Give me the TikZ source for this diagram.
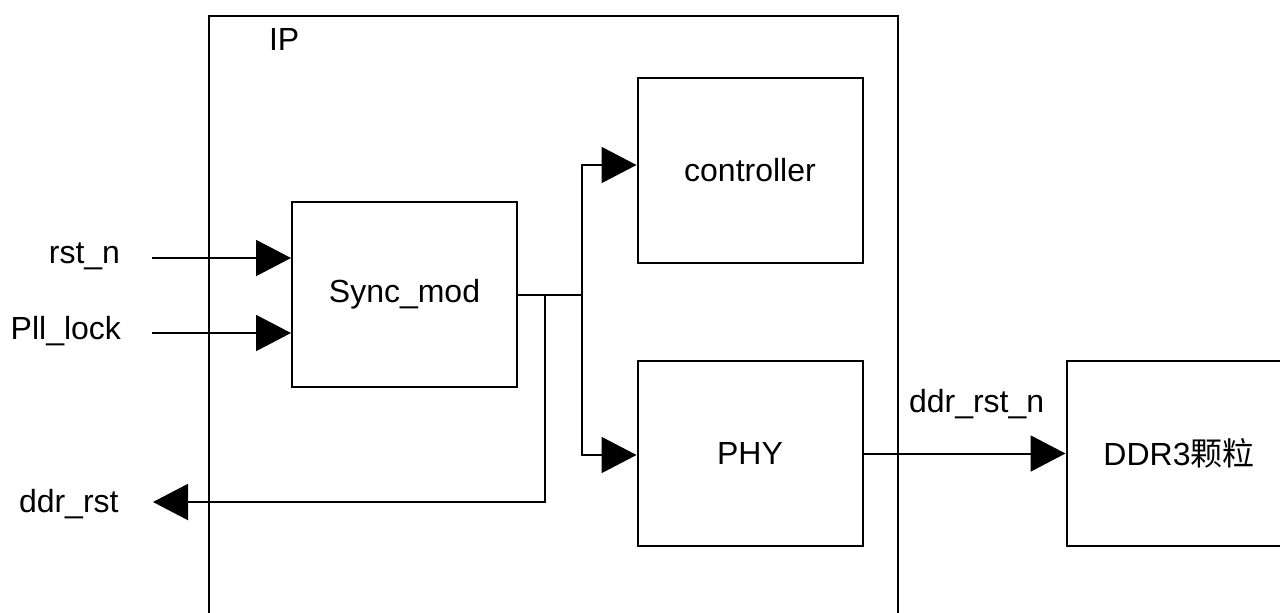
\documentclass[tikz,border=0pt]{standalone}
\usepackage{fontspec}
\setmainfont{Liberation Sans}
\newfontfamily\cjk{Noto Sans CJK SC}
\usetikzlibrary{arrows.meta}
\begin{document}
\begin{tikzpicture}[x=0.5pt,y=-0.5pt,line width=1pt,
  box/.style={draw,minimum width=112.5pt,minimum height=92.5pt,inner sep=0pt,font=\fontsize{16}{19}\selectfont},
  lbl/.style={inner sep=0pt,font=\fontsize{16}{19}\selectfont},
  arr/.style={-{Triangle[length=17.5pt,width=18pt]}}]
\useasboundingbox (0,0) rectangle (1280,612);
\clip (0,0) rectangle (1280,612);
\fill[white] (0,0) rectangle (1280,612);
% IP container
\node[draw,minimum width=344.5pt,minimum height=350pt,inner sep=0pt,anchor=north west] (ip) at (208,15) {};
\node[lbl,anchor=base west] (iplbl) at (268,50) {IP};
% blocks
\node[box] (sync) at (404.5,294.5) {Sync\_mod};
\node[box] (ctrl) at (750,170.5) {controller};
\node[box] (phy) at (750,453.5) {PHY};
\node[box] (ddr) at (1179,453.5) {DDR3{\cjk 颗粒}};
% labels
\node[lbl,anchor=base east] (lrst) at (121,263) {rst\_n};
\node[lbl,anchor=base east] (lpll) at (122,339) {Pll\_lock};
\node[lbl,anchor=base west] (lddr) at (18,512) {ddr\_rst};
\node[lbl,anchor=base west] (lddrn) at (908,412) {ddr\_rst\_n};
% connectors
\coordinate (rstin) at (152,258);
\coordinate (pllin) at (152,333);
\draw[arr] (rstin) -- (rstin -| sync.west);
\draw[arr] (pllin) -- (pllin -| sync.west);
\coordinate (j1) at (582,294.5);
\coordinate (j2) at (545,294.5);
\draw (sync.east) -- (j1);
\draw[arr] (j1) |- ([yshift=2.75pt]ctrl.west);
\draw[arr] (j1) |- ([yshift=-0.75pt]phy.west);
\coordinate (rstout) at (153,502);
\draw[arr] (j2) |- (rstout);
\draw[arr] (phy.east) -- (ddr.west);
\end{tikzpicture}
\end{document}
